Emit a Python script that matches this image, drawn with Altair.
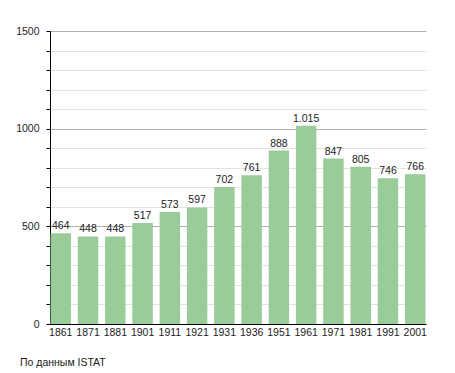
import altair as alt
import pandas as pd

years = ["1861", "1871", "1881", "1901", "1911", "1921", "1931", "1936",
         "1951", "1961", "1971", "1981", "1991", "2001"]
population = [464, 448, 448, 517, 573, 597, 702, 761, 888, 1015, 847, 805, 746, 766]
y_ticks = list(range(0, 1501, 100))
caption = "По данным  ISTAT"

df = pd.DataFrame({"year": years, "pop": population})

W, H = 376, 293
FONT = "Liberation Sans"
FS = 10.5

x_scale = alt.Scale(paddingInner=0.25, paddingOuter=0.02)
y_scale = alt.Scale(domain=[0, 1500], nice=False)

base = alt.Chart(df).transform_calculate(
    lbl="replace(format(datum.pop, ','), ',', '.')"
).encode(
    x=alt.X("year:N", sort=years, title=None, scale=x_scale,
            axis=alt.Axis(labelAngle=0, ticks=False, domainColor="black",
                          labelFont=FONT, labelFontSize=FS, labelColor="#222",
                          labelPadding=3, grid=False, labelOverlap=False)),
    y=alt.Y("pop:Q", scale=y_scale, title=None,
            axis=alt.Axis(values=y_ticks, labelOverlap=False,
                          labelExpr="datum.value % 500 == 0 ? datum.label : ''",
                          format="d",
                          labelFont=FONT, labelFontSize=FS, labelColor="#222",
                          domainColor="black", tickColor="black", tickSize=4,
                          labelPadding=7,
                          grid=True,
                          gridColor={"condition": {"test": "datum.value % 500 === 0", "value": "#b0b0b0"},
                                     "value": "#e2e2e2"})),
)

bars = base.mark_bar(color="#99cc99")

labels = base.mark_text(baseline="bottom", dy=-2, font=FONT, fontSize=FS,
                        color="#222").encode(text="lbl:N")

cap = alt.Chart(pd.DataFrame({"t": [caption]})).mark_text(
    align="left", baseline="middle", font=FONT, fontSize=FS, color="#222"
).encode(
    x=alt.value(-30), y=alt.value(H + 39), text="t:N"
)

chart = alt.layer(bars, labels, cap).properties(
    width=W, height=H,
    autosize=alt.AutoSizeParams(type="none"),
    padding={"left": 42, "top": 23, "right": 21, "bottom": 47},
).configure_view(stroke=None)

chart.save("out.html", embed_options={"renderer": "svg", "actions": False})
